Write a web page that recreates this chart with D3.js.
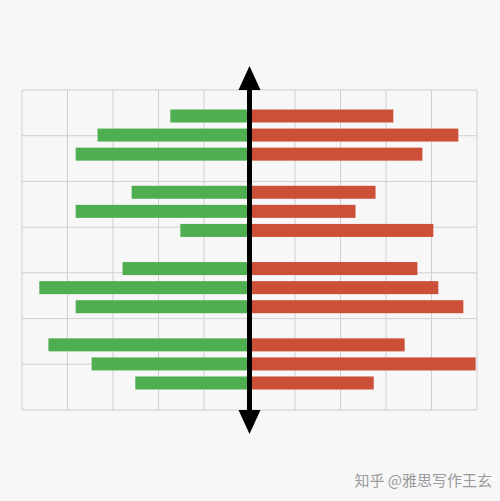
<!DOCTYPE html>
<html><head><meta charset="utf-8">
<script src="https://cdn.jsdelivr.net/npm/d3@7"></script>
<style>body{margin:0;background:#f7f7f7}</style>
</head><body>
<script>
// rows: 4 groups of 3
var groups = [0, 1, 2, 3];
var rowsPerGroup = [0, 1, 2];
var greenValues = [-1.74, -3.34, -3.82, -2.59, -3.82, -1.52, -2.79, -4.62, -3.82, -4.42, -3.47, -2.51];
var redValues = [3.16, 4.59, 3.80, 2.77, 2.33, 4.04, 3.69, 4.15, 4.70, 3.41, 4.97, 2.73];
var xTicks = [-5, -4, -3, -2, -1, 0, 1, 2, 3, 4, 5];
var yTicks = [0, 1, 2, 3, 4, 5, 6, 7];
var watermark = "知乎 @雅思写作王玄";

var svg = d3.select("body").append("svg").attr("width", 500).attr("height", 501);
svg.append("rect").attr("width", 500).attr("height", 501).attr("fill", "#f7f7f7");

var x = d3.scaleLinear().domain([-5, 5]).range([22, 477]);
var gy = d3.scaleLinear().domain([0, 7]).range([90, 410]);
var slot = d3.scaleLinear().domain([0, 14]).range([116, 383]);

svg.append("g").selectAll("line").data(xTicks).enter().append("line")
	.attr("x1", function(d) { return x(d); }).attr("x2", function(d) { return x(d); })
	.attr("y1", gy(0)).attr("y2", gy(7))
	.attr("stroke", "#cfcfcf").attr("stroke-width", 1);
svg.append("g").selectAll("line").data(yTicks).enter().append("line")
	.attr("x1", x(-5)).attr("x2", x(5))
	.attr("y1", function(d) { return gy(d); }).attr("y2", function(d) { return gy(d); })
	.attr("stroke", "#cfcfcf").attr("stroke-width", 1);

var rows = [];
groups.forEach(function(g) {
	rowsPerGroup.forEach(function(r) { rows.push(g * 4 + r); });
});
var bh = 13;

svg.append("g").selectAll("rect").data(greenValues).enter().append("rect")
	.attr("x", function(d) { return x(d); })
	.attr("width", function(d) { return x(0) - x(d); })
	.attr("y", function(d, i) { return slot(rows[i]) - bh / 2; })
	.attr("height", bh).attr("fill", "#4fae4f");
svg.append("g").selectAll("rect").data(redValues).enter().append("rect")
	.attr("x", x(0))
	.attr("width", function(d) { return x(d) - x(0); })
	.attr("y", function(d, i) { return slot(rows[i]) - bh / 2; })
	.attr("height", bh).attr("fill", "#cc4f37");

// double arrow axis
var cx = x(0);
svg.append("line").attr("x1", cx).attr("x2", cx).attr("y1", 85).attr("y2", 415)
	.attr("stroke", "#000").attr("stroke-width", 5);
svg.append("path").attr("d", "M" + cx + ",66L" + (cx + 11) + ",90L" + (cx - 11) + ",90Z").attr("fill", "#000");
svg.append("path").attr("d", "M" + cx + ",434L" + (cx + 11) + ",410L" + (cx - 11) + ",410Z").attr("fill", "#000");

svg.append("text").attr("x", 492).attr("y", 486).attr("text-anchor", "end")
	.attr("font-family", "Noto Sans CJK SC").attr("font-size", 15).attr("fill", "#9a9a9a")
	.text(watermark);
</script>
</body></html>
